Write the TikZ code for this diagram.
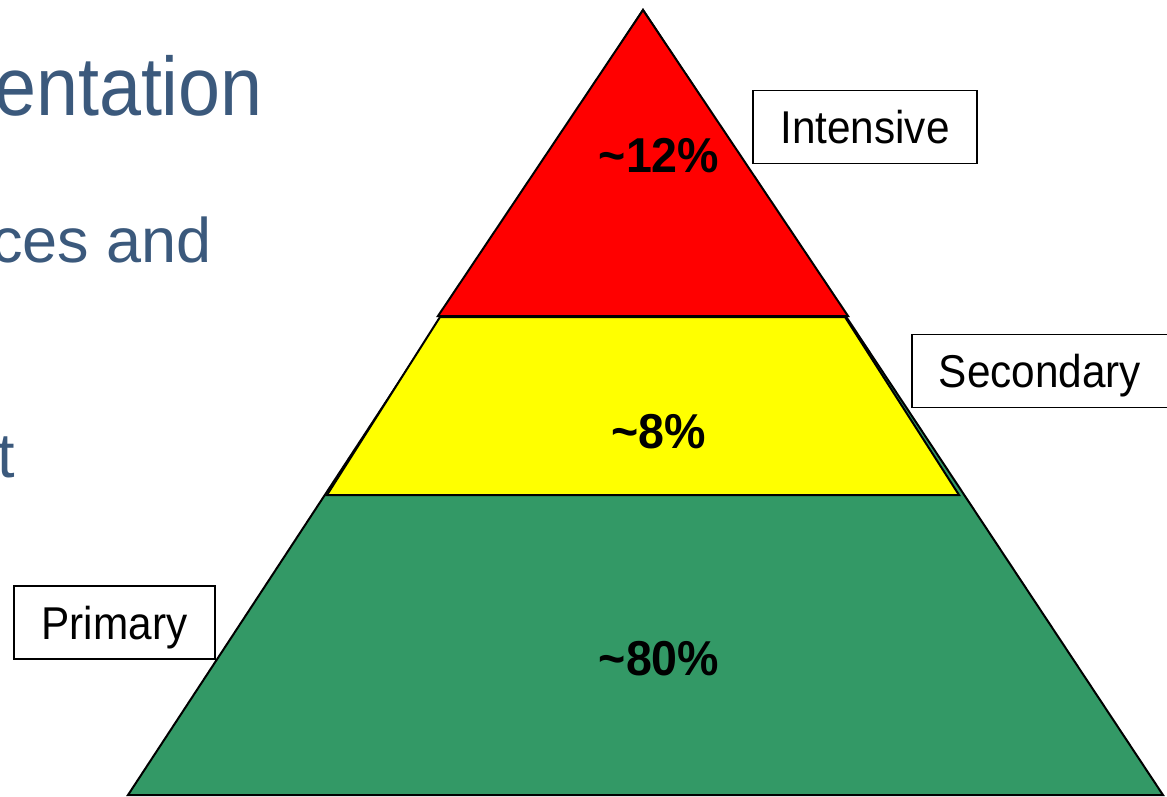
\documentclass[tikz,border=0pt]{standalone}
\usepackage{fontspec}
\setmainfont{Liberation Sans}
\newfontfamily\labelfont[FakeStretch=0.92]{Liberation Sans}
\newfontfamily\pctfont[FakeStretch=0.95]{Liberation Sans}
\newfontfamily\headfont[FakeStretch=0.91]{Liberation Sans}
\definecolor{tierred}{HTML}{FF0000}
\definecolor{tieryellow}{HTML}{FFFF00}
\definecolor{tiergreen}{HTML}{339966}
\definecolor{slatetext}{HTML}{3B597C}
\begin{document}
\begin{tikzpicture}[x=1pt,y=-1pt,
  layer/.style={draw=black,line width=2pt,line join=miter},
  tierbox/.style={draw=black,line width=1.5pt,fill=white,inner sep=0pt,
    minimum height=73pt,text height=33pt,text depth=0pt,
    font=\labelfont\fontsize{46}{46}\selectfont},
  pct/.style={inner sep=0pt,text height=35pt,text depth=0pt,
    font=\pctfont\bfseries\fontsize{49}{49}\selectfont},
  bodytext/.style={inner sep=0pt,text=slatetext,anchor=base east}]
\useasboundingbox (0,0) rectangle (1167,796);
\begin{scope}
\clip (0,0) rectangle (1167,796);
% pyramid: full green base, yellow band and red cap on top
\filldraw[layer,fill=tiergreen] (643,10) -- (1163,795) -- (128,795) -- cycle;
\filldraw[layer,fill=tieryellow] (440,317) -- (845,317) -- (959,495) -- (327,495) -- cycle;
\filldraw[layer,fill=tierred] (643,10) -- (848,316) -- (438,316) -- cycle;

\node[pct] (p12) at (659,155) {\char`\~12\%};
\node[pct] (p8) at (659,431) {\char`\~8\%};
\node[pct] (p80) at (659,658) {\char`\~80\%};

% tier labels
\node[tierbox,minimum width=224pt] (intensive) at (865,127) {Intensive};
\node[tierbox,minimum width=256pt] (secondary) at (1040,371) {Secondary};
\node[tierbox,minimum width=201pt] (primary) at (114.5,622.5) {Primary};

% slide body text running off the left edge, partly behind the figure
\node[bodytext,font=\headfont\fontsize{83}{83}\selectfont] (title) at (263,115) {entation};
\node[bodytext,font=\fontsize{63}{63}\selectfont] (line1) at (212,262) {ces and};
\node[bodytext,font=\fontsize{63}{63}\selectfont] (line2) at (15,477) {t};
\end{scope}
\end{tikzpicture}
\end{document}
